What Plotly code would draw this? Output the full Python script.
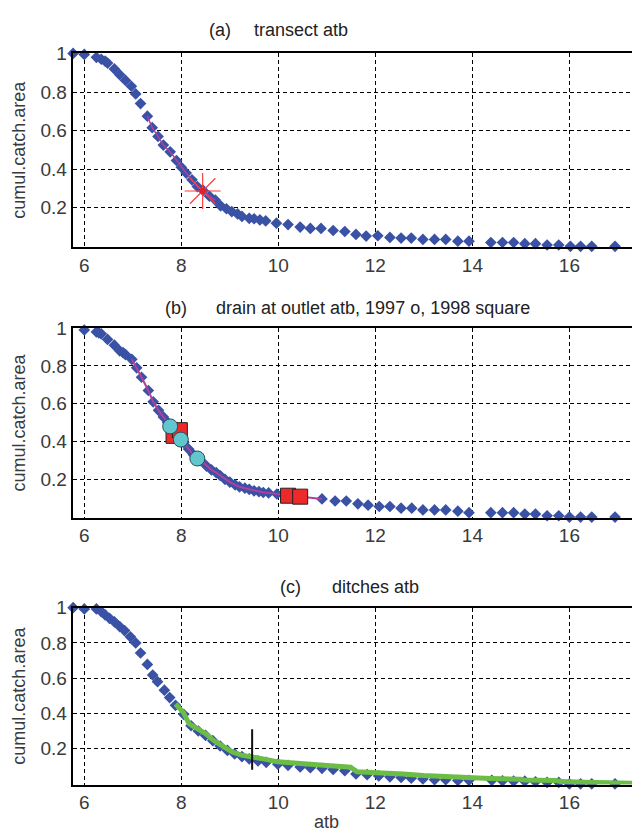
import plotly.graph_objects as go

# ---------------- data ----------------
# panel (a) transect atb
atb_a = [5.77, 6.0, 6.25, 6.35, 6.43, 6.48, 6.62, 6.73, 6.85, 6.97, 7.06, 7.16, 7.3, 7.4, 7.52,
         7.63, 7.77, 7.9, 8.0, 8.1, 8.22, 8.33, 8.45, 8.58, 8.7, 8.81, 8.93, 9.04, 9.16, 9.25,
         9.4, 9.5, 9.62, 9.74, 9.96, 10.2, 10.45, 10.66, 10.88, 11.13, 11.37, 11.6, 11.81, 12.05,
         12.3, 12.53, 12.74, 12.98, 13.22, 13.45, 13.7, 13.93, 14.38, 14.62, 14.85, 15.08, 15.3,
         15.54, 15.78, 16.02, 16.23, 16.46, 16.94]
cca_a = [1.0, 0.995, 0.98, 0.97, 0.96, 0.95, 0.92, 0.89, 0.86, 0.83, 0.79, 0.74, 0.675, 0.615, 0.57,
         0.525, 0.49, 0.445, 0.41, 0.38, 0.345, 0.31, 0.29, 0.26, 0.24, 0.21, 0.195, 0.18, 0.168, 0.155,
         0.145, 0.143, 0.137, 0.132, 0.12, 0.113, 0.1, 0.093, 0.093, 0.082, 0.077, 0.062, 0.053, 0.055,
         0.046, 0.043, 0.043, 0.036, 0.036, 0.036, 0.027, 0.027, 0.02, 0.02, 0.02, 0.014, 0.014,
         0.007, 0.007, 0.0, 0.0, 0.0, 0.0]
fit_a_range = (7.3, 8.72)
star_atb = [8.44]
star_cca = [0.287]

# panel (b) drain at outlet
atb_b = [6.0, 6.25, 6.3, 6.35, 6.48, 6.62, 6.73, 6.8, 6.85, 6.98, 7.08, 7.18, 7.32, 7.42, 7.53,
         7.63, 7.72, 7.85, 7.95, 8.05, 8.15, 8.25, 8.4, 8.52, 8.62, 8.72, 8.8, 8.9, 9.0, 9.11,
         9.2, 9.31, 9.4, 9.5, 9.6, 9.69, 9.8, 9.97, 10.1, 10.9, 11.17, 11.4, 11.64, 11.85, 12.08,
         12.3, 12.53, 12.75, 12.98, 13.22, 13.45, 13.7, 13.93, 14.38, 14.62, 14.85, 15.08, 15.3,
         15.54, 15.78, 16.0, 16.23, 16.46, 16.94]
cca_b = [0.99, 0.98, 0.975, 0.97, 0.94, 0.91, 0.88, 0.87, 0.86, 0.835, 0.79, 0.74, 0.67, 0.61, 0.565,
         0.53, 0.5, 0.46, 0.43, 0.395, 0.36, 0.33, 0.3, 0.27, 0.25, 0.235, 0.22, 0.2, 0.185, 0.17,
         0.16, 0.153, 0.147, 0.139, 0.135, 0.13, 0.128, 0.122, 0.118, 0.096, 0.085, 0.085, 0.07, 0.063,
         0.056, 0.056, 0.047, 0.047, 0.038, 0.038, 0.038, 0.031, 0.023, 0.023, 0.023, 0.023, 0.016,
         0.016, 0.007, 0.007, 0.0, 0.0, 0.0, 0.0]
fit_b_range = (6.97, 10.92)
circ_atb = [7.77, 7.99, 8.33]
circ_cca = [0.48, 0.41, 0.31]
sq_atb = [7.84, 7.97, 10.2, 10.45]
sq_cca = [0.43, 0.46, 0.113, 0.108]

# panel (c) ditches
atb_c = [5.77, 6.0, 6.25, 6.35, 6.43, 6.52, 6.62, 6.73, 6.83, 6.95, 7.06, 7.16, 7.3, 7.41, 7.51,
         7.65, 7.76, 7.88, 8.05, 8.2, 8.35, 8.5, 8.65, 8.8, 8.95, 9.1, 9.25, 9.4, 9.58, 9.75,
         9.99, 10.2, 10.45, 10.66, 10.9, 11.13, 11.37, 11.6, 11.83, 12.07, 12.3, 12.53, 12.74,
         12.98, 13.22, 13.45, 13.7, 13.93, 14.4, 14.62, 14.85, 15.08, 15.3, 15.54, 15.78, 16.0,
         16.23, 16.46, 16.94]
cca_c = [1.0, 0.993, 0.993, 0.978, 0.959, 0.94, 0.92, 0.893, 0.87, 0.835, 0.80, 0.743, 0.678, 0.618, 0.58,
         0.532, 0.49, 0.446, 0.395, 0.33, 0.3, 0.275, 0.245, 0.215, 0.19, 0.17, 0.155, 0.142, 0.13, 0.122,
         0.112, 0.105, 0.096, 0.092, 0.088, 0.082, 0.075, 0.056, 0.052, 0.045, 0.04, 0.036, 0.032,
         0.028, 0.024, 0.024, 0.019, 0.02, 0.02, 0.017, 0.015, 0.015, 0.012, 0.008, 0.008, 0.0,
         0.0, 0.0, 0.0]
atb_green = [7.88, 8.04, 8.16, 8.33, 8.5, 8.66, 8.83, 9.04, 9.24, 9.45, 9.74, 9.99, 10.24, 10.58,
             10.91, 11.24, 11.49, 11.62, 11.9, 12.24, 12.57, 12.99, 13.4, 13.74, 14.24, 14.99, 15.07,
             15.73, 15.82, 16.32, 17.3]
cca_green = [0.453, 0.406, 0.341, 0.313, 0.285, 0.247, 0.219, 0.182, 0.163, 0.15, 0.139, 0.125, 0.12,
             0.112, 0.109, 0.101, 0.094, 0.069, 0.066, 0.06, 0.056, 0.047, 0.041, 0.037, 0.032, 0.026,
             0.022, 0.019, 0.013, 0.009, 0.004]
mark_atb = [9.46, 9.46]
mark_cca = [0.08, 0.31]

titles = [("(a)", "transect atb"),
          ("(b)", "drain at outlet atb, 1997 o, 1998 square"),
          ("(c)", "ditches atb")]
xticks = [6, 8, 10, 12, 14, 16]
yticks = [0.2, 0.4, 0.6, 0.8, 1.0]
yticktext = ["0.2", "0.4", "0.6", "0.8", "1"]

# ---------------- layout geometry ----------------
W, H = 632, 831
FONT = "Liberation Sans Narrow, Arial Narrow, Liberation Sans, sans-serif"
TXT = "#3a3a3a"
BLUE = "#3a52a6"
MAG = "#b0409c"
panels = [(44, 240), (322, 514), (605, 784)]   # top/bottom pixel of each plot area
x_left = 72.5
xrange_ = [5.757, 17.29]

fig = go.Figure()

def px2py(p):
    return 1 - p / H

dia = dict(symbol="diamond", size=9, color=BLUE, line=dict(width=0))

# panel a
fig.add_trace(go.Scatter(x=atb_a, y=cca_a, mode="markers", marker=dia, xaxis="x", yaxis="y", cliponaxis=False))
fa = [(x, y) for x, y in zip(atb_a, cca_a) if fit_a_range[0] <= x <= fit_a_range[1]]
fig.add_trace(go.Scatter(x=[p[0] for p in fa], y=[p[1] for p in fa], mode="lines",
                         line=dict(color=MAG, width=1.5), xaxis="x", yaxis="y"))
fig.add_trace(go.Scatter(x=star_atb, y=star_cca, mode="markers",
                         marker=dict(symbol="asterisk-open", size=30, color="#ff3b3b",
                                     line=dict(color="#ff3b3b", width=1.2)),
                         xaxis="x", yaxis="y", cliponaxis=False))
fig.add_trace(go.Scatter(x=star_atb, y=star_cca, mode="markers",
                         marker=dict(symbol="circle", size=6, color="#e0202a"), xaxis="x", yaxis="y"))

# panel b
fig.add_trace(go.Scatter(x=atb_b, y=cca_b, mode="markers", marker=dia, xaxis="x2", yaxis="y2", cliponaxis=False))
fb = [(x, y) for x, y in zip(atb_b, cca_b) if fit_b_range[0] <= x <= fit_b_range[1]]
fig.add_trace(go.Scatter(x=[p[0] for p in fb], y=[p[1] for p in fb], mode="lines",
                         line=dict(color=MAG, width=2), xaxis="x2", yaxis="y2"))
fig.add_trace(go.Scatter(x=sq_atb, y=sq_cca, mode="markers",
                         marker=dict(symbol="square", size=15, color="#ec2a2a",
                                     line=dict(color="#222", width=1)),
                         xaxis="x2", yaxis="y2"))
fig.add_trace(go.Scatter(x=circ_atb, y=circ_cca, mode="markers",
                         marker=dict(symbol="circle", size=15, color="#62c6cf",
                                     line=dict(color="#2a4a55", width=1)),
                         xaxis="x2", yaxis="y2"))

# panel c
fig.add_trace(go.Scatter(x=atb_c, y=cca_c, mode="markers", marker=dia, xaxis="x3", yaxis="y3", cliponaxis=False))
fig.add_trace(go.Scatter(x=atb_green, y=cca_green, mode="lines",
                         line=dict(color="#6cbd45", width=5), xaxis="x3", yaxis="y3"))
fig.add_trace(go.Scatter(x=mark_atb, y=mark_cca, mode="lines",
                         line=dict(color="#111", width=2), xaxis="x3", yaxis="y3"))

axis_common_x = dict(range=xrange_, domain=[x_left / W, 1.0], tickvals=xticks,
                     ticktext=[str(t) for t in xticks], showgrid=True, gridcolor="#000",
                     griddash="4px,3px", gridwidth=1, showline=True, linecolor="#000", linewidth=1.5,
                     mirror=True, ticks="", zeroline=False,
                     tickfont=dict(family=FONT, size=19, color=TXT))
axis_common_y = dict(range=[-0.004, 1.0], tickvals=yticks, ticktext=yticktext, showgrid=True,
                     gridcolor="#000", griddash="4px,3px", gridwidth=1, showline=True, linecolor="#000",
                     linewidth=1.5, mirror=False, ticks="", zeroline=False,
                     tickfont=dict(family=FONT, size=19, color=TXT))

lay = {}
names = [("xaxis", "yaxis", "y", "x"), ("xaxis2", "yaxis2", "y2", "x2"), ("xaxis3", "yaxis3", "y3", "x3")]
for (xa, ya, yref, xref), (top, bot) in zip(names, panels):
    lay[xa] = dict(axis_common_x, anchor=yref)
    lay[ya] = dict(axis_common_y, anchor=xref, domain=[px2py(bot), px2py(top)],
                   title=dict(text="cumul.catch.area", font=dict(family=FONT, size=18, color=TXT),
                              standoff=10))

fig.update_layout(width=W, height=H, margin=dict(l=0, r=0, t=0, b=0),
                  paper_bgcolor="white", plot_bgcolor="white", showlegend=False, **lay)

# titles
title_pos = [(207, 252, 20), (163, 214, 302), (278, 330, 584)]
for (lab, txt), (xl, xt, yp) in zip(titles, title_pos):
    fig.add_annotation(text=lab, x=xl / W, y=px2py(yp), xref="paper", yref="paper",
                       xanchor="left", yanchor="middle", showarrow=False,
                       font=dict(family=FONT, size=18, color="#222"))
    fig.add_annotation(text=txt, x=xt / W, y=px2py(yp), xref="paper", yref="paper",
                       xanchor="left", yanchor="middle", showarrow=False,
                       font=dict(family=FONT, size=18, color="#222"))

fig.add_annotation(text="atb", x=(84.3 + (11 - 6) * 48.5) / W, y=px2py(822), xref="paper", yref="paper",
                   xanchor="center", yanchor="middle", showarrow=False,
                   font=dict(family=FONT, size=18, color=TXT))

fig.write_html("out.html")
